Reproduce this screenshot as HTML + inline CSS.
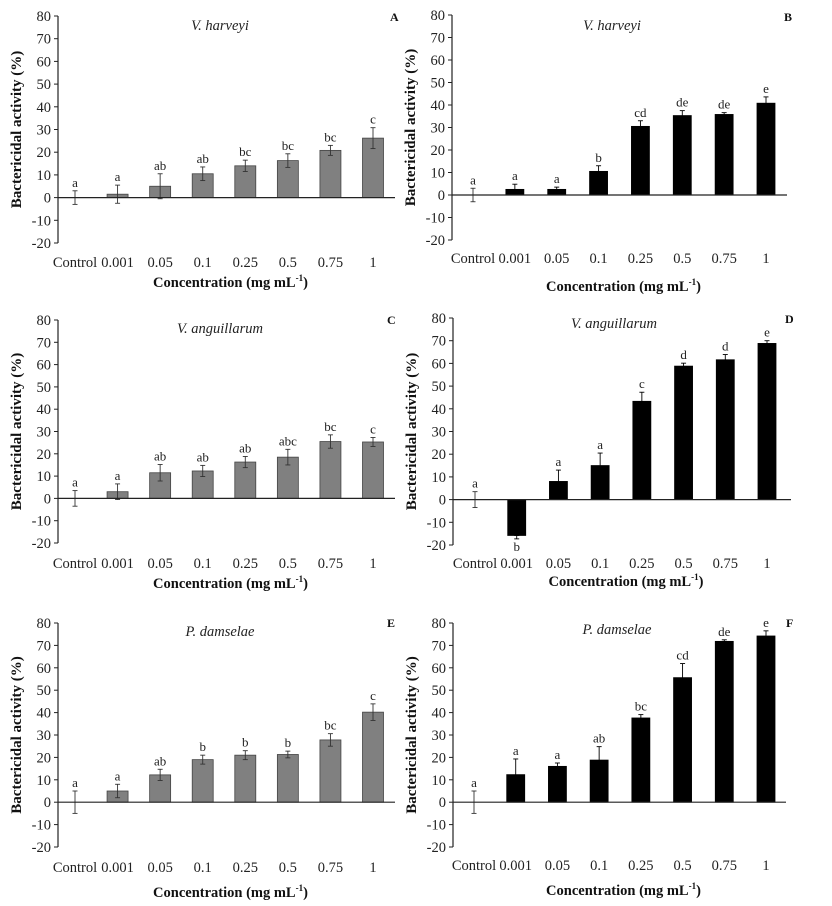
<!DOCTYPE html>
<html><head><meta charset="utf-8"><style>
html,body{margin:0;padding:0;background:#fff}
svg{display:block;font-family:"Liberation Serif",serif}
</style></head><body>
<svg id="fig" width="832" height="906" viewBox="0 0 832 906" xmlns="http://www.w3.org/2000/svg"></svg>
<script>
const categories = ["Control","0.001","0.05","0.1","0.25","0.5","0.75","1"];
const yTicks = [80,70,60,50,40,30,20,10,0,-10,-20];
const valuesA = [0,1.5,5,10.5,14,16.3,20.8,26.2];
const errA = [3,4,5.5,3,2.5,3,2.2,4.6];
const lettersA = ["a","a","ab","ab","bc","bc","bc","c"];
const valuesB = [0,2.5,2.5,10.5,30.5,35.3,35.8,40.8];
const errB = [3,2.3,1,2.5,2.5,2.2,0.8,2.8];
const lettersB = ["a","a","a","b","cd","de","de","e"];
const valuesC = [0,3,11.5,12.3,16.3,18.5,25.5,25.3];
const errC = [3.5,3.5,3.7,2.5,2.5,3.5,3,2];
const lettersC = ["a","a","ab","ab","ab","abc","bc","c"];
const valuesD = [0,-15.8,8,15,43.3,58.8,61.6,68.8];
const errD = [3.5,1.5,5,5.5,4,1.3,2.3,1.2];
const lettersD = ["a","b","a","a","c","d","d","e"];
const valuesE = [0,5,12.2,19,21,21.3,27.8,40.2];
const errE = [5,3,2.5,2,2,1.5,2.8,3.7];
const lettersE = ["a","a","ab","b","b","b","bc","c"];
const valuesF = [0,12.3,16,18.8,37.6,55.6,71.8,74.2];
const errF = [5,7,1.5,6,1.5,6.3,0.7,2.3];
const lettersF = ["a","a","a","ab","bc","cd","de","e"];

const NS="http://www.w3.org/2000/svg";
const svg=document.getElementById('fig');
function mk(tag,attrs,parent,text){const e=document.createElementNS(NS,tag);for(const k in attrs)e.setAttribute(k,attrs[k]);if(text!==undefined)e.textContent=text;parent.appendChild(e);return e;}

const panels=[
 {id:"a",title:"V. harveyi",letter:"A",vals:valuesA,err:errA,lets:lettersA,gray:true,ax:58,y80:16,yN20:243,c0:75,c7:373,end:395,tickY:267,xtY:287,tx:220,ty:30,lx:390,ly:21},
 {id:"b",title:"V. harveyi",letter:"B",vals:valuesB,err:errB,lets:lettersB,gray:false,ax:452,y80:15,yN20:240,c0:473,c7:766,end:787,tickY:263,xtY:291,tx:612,ty:30,lx:784,ly:21},
 {id:"c",title:"V. anguillarum",letter:"C",vals:valuesC,err:errC,lets:lettersC,gray:true,ax:58,y80:320,yN20:543,c0:75,c7:373,end:395,tickY:568,xtY:588,tx:220,ty:333,lx:387,ly:324},
 {id:"d",title:"V. anguillarum",letter:"D",vals:valuesD,err:errD,lets:lettersD,gray:false,ax:453,y80:318,yN20:545,c0:475,c7:767,end:791,tickY:568,xtY:586,tx:614,ty:328,lx:785,ly:323},
 {id:"e",title:"P. damselae",letter:"E",vals:valuesE,err:errE,lets:lettersE,gray:true,ax:58,y80:623,yN20:847,c0:75,c7:373,end:395,tickY:872,xtY:897,tx:220,ty:636,lx:387,ly:627},
 {id:"f",title:"P. damselae",letter:"F",vals:valuesF,err:errF,lets:lettersF,gray:false,ax:453,y80:623,yN20:847,c0:474,c7:766,end:786,tickY:870,xtY:895,tx:617,ty:634,lx:786,ly:627}
];

panels.forEach(p=>{
 const g=mk('g',{},svg);
 
 
 const yScale=v=>p.y80+(80-v)*(p.yN20-p.y80)/100;
 const xScale=i=>p.c0+i*(p.c7-p.c0)/(categories.length-1);
 const y0=yScale(0);
 const yax=mk('line',{x1:p.ax,y1:p.y80,x2:p.ax,y2:p.yN20,stroke:'#222','stroke-width':1.2},g);
 
 
 yTicks.forEach(t=>{
  const yy=yScale(t);
  mk('line',{x1:p.ax-4,y1:yy,x2:p.ax,y2:yy,stroke:'#222','stroke-width':1},g);
  const tl=mk('text',{x:p.ax-7,y:yy+5,'text-anchor':'end','font-size':14.5,fill:'#222'},g,String(t));
  
  
 });
 p.vals.forEach((v,i)=>{
  const cx=xScale(i);const w=p.gray?21:18;
  if(i>0){
   const top=Math.min(yScale(v),y0),h=Math.abs(yScale(v)-y0);
   const r=mk('rect',{x:cx-w/2,y:top,width:w,height:h,fill:p.gray?'#808080':'#000',stroke:p.gray?'#444':'#000','stroke-width':0.8},g);
   
   
  }
  const e=p.err[i];
  const both=p.gray||i===0;
  const ec=p.gray||i===0?'#333':'#000';
  let yt,yb;
  if(v>=0){yt=yScale(v+e);yb=both?yScale(v-e):yScale(v);}
  else{yt=yScale(v);yb=yScale(v-e);}
  const eb=mk('line',{x1:cx,y1:yt,x2:cx,y2:yb,stroke:ec,'stroke-width':0.9},g);
  
  
  mk('line',{x1:cx-2.5,y1:yt,x2:cx+2.5,y2:yt,stroke:ec,'stroke-width':0.9},g);
  if(both||v<0)mk('line',{x1:cx-2.5,y1:yb,x2:cx+2.5,y2:yb,stroke:ec,'stroke-width':0.9},g);
  const ly=v>=0?yt-4:yb+12;
  const lt=mk('text',{x:cx,y:ly,'text-anchor':'middle','font-size':13,fill:'#222'},g,p.lets[i]);
  
  
  const xl=mk('text',{x:cx,y:p.tickY,'text-anchor':'middle','font-size':14.5,fill:'#222'},g,categories[i]);
  
  
 });
 const xax=mk('line',{x1:p.ax,y1:y0,x2:p.end,y2:y0,stroke:'#222','stroke-width':1.2},g);
 
 
 const ti=mk('text',{x:p.tx,y:p.ty,'text-anchor':'middle','font-size':14.5,'font-style':'italic',fill:'#222'},g,p.title);
 
 
 const le=mk('text',{x:p.lx,y:p.ly,'font-size':12,'font-weight':'bold',fill:'#111'},g,p.letter);
 
 
 const xt=mk('text',{x:(p.ax+p.end)/2+4,y:p.xtY,'text-anchor':'middle','font-size':14.5,'font-weight':'bold',fill:'#111'},g);
 
 
 mk('tspan',{},xt,'Concentration (mg mL');
 mk('tspan',{'font-size':9,dy:-6},xt,'-1');
 mk('tspan',{dy:6},xt,')');
 const cy=(p.y80+p.yN20)/2;
 const yx=p.ax-37;
 const yt2=mk('text',{x:yx,y:cy,'text-anchor':'middle','font-size':15,'font-weight':'bold',fill:'#111',transform:`rotate(-90 ${yx} ${cy})`},g,'Bactericidal activity (%)');
 
 
});
</script>
</body></html>
